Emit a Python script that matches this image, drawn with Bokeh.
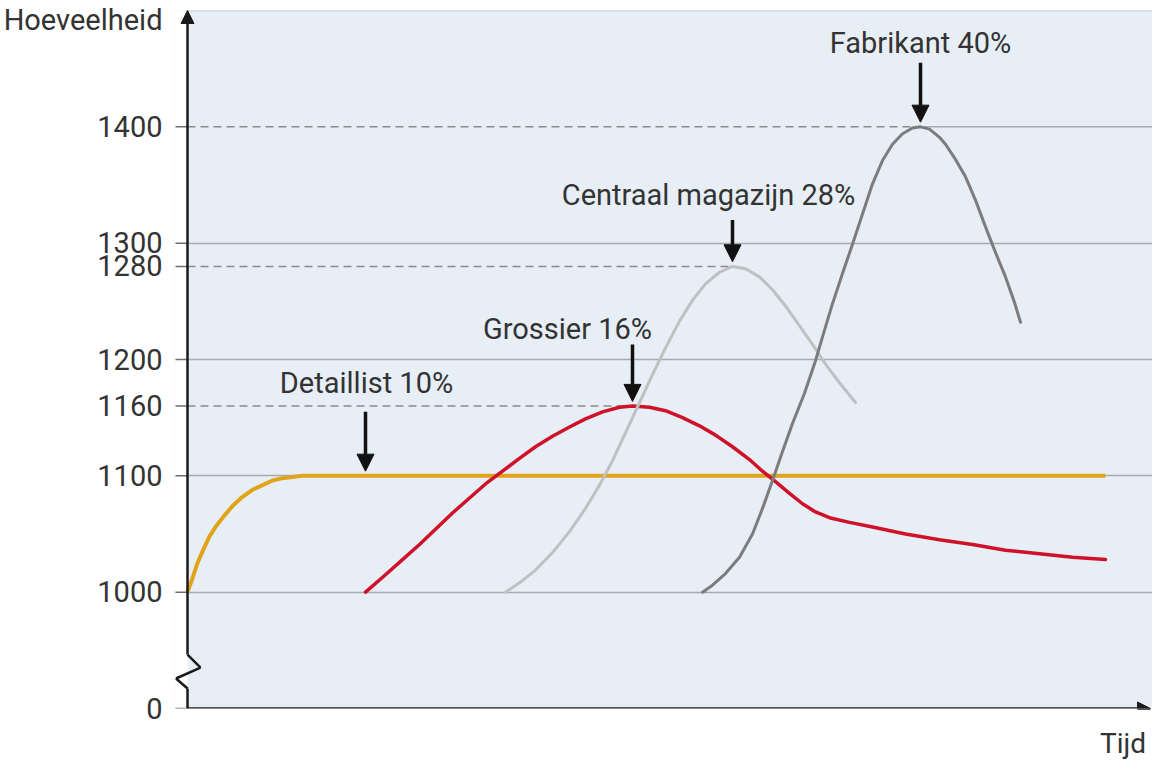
from bokeh.plotting import figure
from bokeh.models import FixedTicker, Range1d, Arrow, NormalHead, Label
from bokeh.embed import file_html
from bokeh.resources import INLINE

# ---------------- data ----------------
ytick_values = [0, 1000, 1100, 1160, 1200, 1280, 1300, 1400]
grid_values = [1000, 1100, 1200, 1300]

detaillist_t = [0, 0.5, 1.0, 1.5, 2.2, 2.8, 3.7, 4.5, 5.5, 6.5, 7.5, 8.5, 9.5, 10.5, 11.5, 91.8]
detaillist_v = [1000, 1012, 1025, 1035, 1048, 1056, 1066, 1074, 1082, 1088, 1092, 1096, 1098,
                1099, 1100, 1100]

grossier_t = [17.8, 19.8, 21.5, 23.2, 24.8, 26.5, 28.2, 29.8, 31.5, 33.2, 34.8, 36.5, 38.2,
              39.8, 41.5, 43.2, 44.5, 46.2, 47.8, 49.5, 51.2, 52.8, 54.5, 56.2, 57.5, 58.8,
              60.2, 61.5, 62.8, 64.2, 66.2, 68.5, 71.8, 75.2, 78.5, 81.8, 85.2, 88.5, 91.8]
grossier_v = [1000, 1015, 1028, 1041, 1054, 1068, 1081, 1093, 1104, 1115, 1125, 1134, 1142,
              1149, 1155, 1159, 1160, 1159, 1156, 1150, 1143, 1135, 1125, 1114, 1104, 1095,
              1085, 1076, 1069, 1064, 1060, 1056, 1050, 1045, 1041, 1036, 1033, 1030, 1028]

centraal_t = [31.8, 33.2, 34.8, 36.5, 38.2, 39.8, 41.2, 42.5, 43.8, 45.2, 46.5, 47.8, 49.2,
              50.5, 51.8, 53.2, 54.5, 55.8, 57.2, 58.5, 59.8, 61.2, 62.5, 63.8, 65.2, 66.8]
centraal_v = [1000, 1008, 1019, 1034, 1052, 1072, 1092, 1113, 1137, 1163, 1187, 1210, 1233,
              1251, 1265, 1275, 1280, 1278, 1271, 1260, 1246, 1229, 1213, 1196, 1180, 1163]

fabrikant_t = [51.5, 52.5, 53.8, 55.2, 56.5, 57.5, 58.5, 59.5, 60.5, 61.7, 62.8, 63.8, 64.5,
               65.5, 66.5, 67.5, 68.5, 69.5, 70.5, 71.5, 72.5, 73.3, 74.2, 75.2, 75.8, 76.8,
               77.8, 78.8, 79.8, 80.8, 81.8, 82.7, 83.3]
fabrikant_v = [1000, 1006, 1016, 1030, 1050, 1072, 1096, 1121, 1145, 1171, 1199, 1228, 1248,
               1274, 1299, 1325, 1351, 1371, 1385, 1394, 1399, 1400, 1398, 1391, 1385, 1372,
               1357, 1337, 1314, 1292, 1271, 1249, 1232]

series_labels = ["Detaillist 10%", "Grossier 16%", "Centraal magazijn 28%", "Fabrikant 40%"]
y_title = "Hoeveelheid"
x_title = "Tijd"

# broken axis: the 0..1000 stretch is compressed into 100 axis units
def to_axis(v):
    return v if v >= 1000 else 900 + v / 10.0

# ---------------- layout / style ----------------
FONT = "Roboto"
TXT = "#333333"
X0 = -1.3          # a little room left of the y axis for the tick marks / break
X_END = 96.5
Y_TOP = 1500
Y_BOT = to_axis(0)
BG = "#e8eef6"

p = figure(width=1152, height=762, output_backend="svg", toolbar_location=None,
           x_range=Range1d(X0, X_END), y_range=Range1d(Y_BOT, Y_TOP),
           min_border_left=174, min_border_right=0, min_border_top=10, min_border_bottom=53)
p.background_fill_color = BG
p.border_fill_color = "white"
p.outline_line_color = None
p.xgrid.visible = False

# y axis: labels only (tick marks drawn below), plus the axis title as top label
TITLE_POS = 1492
ya = p.yaxis[0]
ya.ticker = FixedTicker(ticks=[to_axis(v) for v in ytick_values] + [TITLE_POS])
overrides = {to_axis(v): str(v) for v in ytick_values}
overrides[TITLE_POS] = y_title
ya.major_label_overrides = overrides
ya.axis_line_color = None
ya.major_tick_line_color = None
ya.minor_tick_line_color = None
ya.major_tick_in = 0
ya.major_tick_out = 0
ya.major_label_standoff = 12
ya.major_label_text_font = FONT
ya.major_label_text_font_size = "29px"
ya.major_label_text_color = TXT

# x axis: no ticks, only the title at the right end
TIJD_POS = 94.85
xa = p.xaxis[0]
xa.ticker = FixedTicker(ticks=[TIJD_POS])
xa.major_label_overrides = {TIJD_POS: x_title}
xa.axis_line_color = None
xa.major_tick_line_color = None
xa.minor_tick_line_color = None
xa.major_tick_in = 0
xa.major_tick_out = 0
xa.major_label_standoff = 18
xa.major_label_text_font = FONT
xa.major_label_text_font_size = "28px"
xa.major_label_text_color = TXT

p.ygrid.ticker = FixedTicker(ticks=grid_values)
p.ygrid.grid_line_color = "#a7abb1"
p.ygrid.grid_line_width = 1.5

# white strip left of the y axis (outside the plotting area)
p.quad(left=[X0], right=[0], bottom=[Y_BOT], top=[Y_TOP], fill_color="white", line_color=None)
# top border of the plotting area
p.segment(x0=[0], y0=[Y_TOP], x1=[X_END], y1=[Y_TOP], line_color="#c9cdd3", line_width=2)
# tick marks
p.segment(x0=[-1.2] * len(ytick_values), y0=[to_axis(v) for v in ytick_values],
          x1=[0] * len(ytick_values), y1=[to_axis(v) for v in ytick_values],
          line_color="#6e6e6e", line_width=1.5)

# reference lines to the peaks
peaks = [(grossier_t, grossier_v), (centraal_t, centraal_v), (fabrikant_t, fabrikant_v)]
for ts, vs in peaks:
    i = vs.index(max(vs))
    p.segment(x0=[0], y0=[vs[i]], x1=[ts[i]], y1=[vs[i]], line_color="#8a8a8a",
              line_width=1.5, line_dash="8 5")
ti = fabrikant_v.index(max(fabrikant_v))
p.segment(x0=[fabrikant_t[ti]], y0=[1400], x1=[X_END], y1=[1400],
          line_color="#a7abb1", line_width=1.5)

# curves
p.line(detaillist_t, detaillist_v, line_color="#e0a31c", line_width=4, line_join="round")
p.line(grossier_t, grossier_v, line_color="#cf1229", line_width=3.5, line_join="round", line_cap="round")
p.line(centraal_t, centraal_v, line_color="#bfc0c2", line_width=3, line_join="round", line_cap="round")
p.line(fabrikant_t, fabrikant_v, line_color="#7c7c7e", line_width=3, line_join="round", line_cap="round")

# axes drawn as arrows, with the break in the y axis
AX = "#1a1a1a"
def seg(x0, y0, x1, y1, head=None, w=2.5):
    p.add_layout(Arrow(x_start=x0, y_start=y0, x_end=x1, y_end=y1, end=head, start=None,
                       line_color=AX, line_width=w))

seg(0, Y_BOT, X_END - 0.2, Y_BOT, NormalHead(size=13, fill_color=AX, line_color=AX))
seg(0, Y_BOT, 0, 917.2)
seg(0, 917.2, -1.15, 925.8)
seg(-1.15, 925.8, 1.3, 935.2)
seg(1.3, 935.2, 0, 946.4)
seg(0, 946.4, 0, Y_TOP, NormalHead(size=13, fill_color=AX, line_color=AX))

# annotation arrows and labels
ann_x = [17.8, 44.5, 54.5, 73.3]
ann_tip = [1104, 1164, 1284, 1404]
ann_tail = [1155, 1213, 1320, 1455]
lab_x = [17.9, 38.0, 52.1, 73.3]
lab_y = [1180, 1226, 1341, 1472]
for i, txt in enumerate(series_labels):
    p.add_layout(Arrow(x_start=ann_x[i], y_start=ann_tail[i], x_end=ann_x[i], y_end=ann_tip[i],
                       line_color="#111111", line_width=3.5,
                       end=NormalHead(size=17, fill_color="#111111", line_color="#111111")))
    p.add_layout(Label(x=lab_x[i], y=lab_y[i], text=txt, text_align="center",
                       text_baseline="alphabetic", text_font=FONT, text_font_size="29px",
                       text_color=TXT))

open("out.html", "w").write(file_html(p, INLINE))
